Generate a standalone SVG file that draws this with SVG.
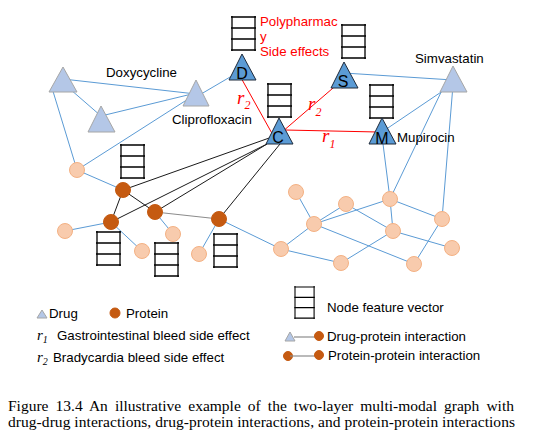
<svg xmlns="http://www.w3.org/2000/svg" xmlns:xlink="http://www.w3.org/1999/xlink" width="538" height="446" viewBox="0 0 538 446">
<defs>
<style>
.bl{stroke:#5B9BD5;stroke-width:1;fill:none}
.bk{stroke:#1a1a1a;stroke-width:1;fill:none}
.gr{stroke:#8c8c8c;stroke-width:1.2;fill:none}
.rd{stroke:#FF0000;stroke-width:1;fill:none}
.dl{fill:#B4C7E7;stroke:#A6A6A6;stroke-width:1}
.dd{fill:#5B9BD5;stroke:#1F2A3A;stroke-width:1}
.pp{fill:#F8CBAD;stroke:#F4B183;stroke-width:1}
.po{fill:#C55A11;stroke:#C55A11;stroke-width:1}
.fv{stroke:#000;stroke-width:1.3;fill:none}
.t{font-family:"Liberation Sans",Arial,sans-serif;font-size:13.3px;fill:#000}
.tr{font-family:"Liberation Sans",Arial,sans-serif;font-size:13.3px;fill:#FF0000}
.lt{font-family:"Liberation Sans",Arial,sans-serif;font-size:16px;fill:#000;text-anchor:middle}
.m{font-family:"Liberation Serif","Times New Roman",serif;font-style:italic;font-size:19px;fill:#FF0000}
.ml{font-family:"Liberation Serif","Times New Roman",serif;font-style:italic;font-size:15px;fill:#000}
.cap{font-family:"Liberation Serif","Times New Roman",serif;font-size:15.5px;fill:#000}
</style>
<g id="fv"><path class="fv" d="M0,-1V34M23,-1V34M-1,0H24M-1,11H24M-1,22H24M-1,33H24"/></g>
</defs>
<rect width="538" height="446" fill="#fff"/>
<g id="connectors">
<path class="bl" d="M63,79L196,94"/>
<path class="bl" d="M63,83L101,116"/>
<path class="bl" d="M101,116L196,93"/>
<path class="bl" d="M52,88L77,170"/>
<path class="bl" d="M196,94L77,170"/>
<path class="bl" d="M196,97L242,70"/>
<path class="bl" d="M344,73L453,80"/>
<path class="bl" d="M453,84L382,132"/>
<path class="bl" d="M444,86L390,199"/>
<path class="bl" d="M453,85L442,219"/>
<path class="bl" d="M382,136L390,199"/>
<path class="bl" d="M77,170L123,190"/>
<path class="bl" d="M111,222L65,231"/>
<path class="bl" d="M111,222L142,251"/>
<path class="bl" d="M155,212L173,234"/>
<path class="bl" d="M219,219L199,254"/>
<path class="bl" d="M219,219L281,249"/>
<path class="bl" d="M281,249L314,224"/>
<path class="bl" d="M314,224L296,192"/>
<path class="bl" d="M314,224L346,204"/>
<path class="bl" d="M314,224L390,199"/>
<path class="bl" d="M314,224L414,264"/>
<path class="bl" d="M346,204L393,231"/>
<path class="bl" d="M390,199L393,231"/>
<path class="bl" d="M390,199L442,219"/>
<path class="bl" d="M393,231L452,248"/>
<path class="bl" d="M393,231L341,263"/>
<path class="bl" d="M281,249L341,263"/>
<path class="bl" d="M442,219L414,264"/>
<path class="bk" d="M272,137L123,190"/>
<path class="bk" d="M267,144L111,222"/>
<path class="bk" d="M267,144L155,212"/>
<path class="bk" d="M280,144L219,219"/>
<path class="bk" d="M123,190L111,222"/>
<path class="bk" d="M123,190L155,212"/>
<path class="gr" d="M155,212L219,219"/>
<path class="rd" d="M240,76L274,137"/>
<path class="rd" d="M282,132L340,82"/>
<path class="rd" d="M285,130L378,132" stroke-width="1.3"/>
</g>
<g id="label-polypharmacy">
<text class="tr" x="260" y="26">Polypharmac</text>
<text class="tr" x="260" y="41">y</text>
<text class="tr" x="260" y="56">Side effects</text>
</g>
<g id="r-labels">
<text class="m" x="237" y="104">r<tspan font-size="12" dy="5">2</tspan></text>
<text class="m" x="308" y="110">r<tspan font-size="12" dy="6">2</tspan></text>
<text class="m" x="322" y="142">r<tspan font-size="12" dy="6">1</tspan></text>
</g>
<g id="drug-doxycycline">
<path class="dl" d="M63,67L77,92H49Z"/>
<text class="t" x="106" y="77">Doxycycline</text>
</g>
<g id="drug-2">
<path class="dl" d="M101,106L115,132H88Z"/>
</g>
<g id="drug-cliprofloxacin">
<path class="dl" d="M196,80L209,106H183Z"/>
<text class="t" x="172" y="124">Cliprofloxacin</text>
</g>
<g id="drug-simvastatin">
<path class="dl" d="M453,66L467,92H440Z"/>
<text class="t" x="415" y="63">Simvastatin</text>
</g>
<g id="drug-D">
<use xlink:href="#fv" x="232" y="17"/>
<path class="dd" d="M242,54L256,80H229Z"/>
<text class="lt" x="242" y="79">D</text>
</g>
<g id="drug-S">
<use xlink:href="#fv" x="342" y="25"/>
<path class="dd" d="M344,62L358,88H331Z"/>
<text class="lt" x="343" y="87">S</text>
</g>
<g id="drug-C">
<use xlink:href="#fv" x="268" y="84"/>
<path class="dd" d="M279,118L293,144H266Z"/>
<text class="lt" x="278" y="143">C</text>
</g>
<g id="drug-M">
<use xlink:href="#fv" x="370" y="85"/>
<path class="dd" d="M382,118L396,144H369Z"/>
<text class="lt" x="382" y="144">M</text>
<text class="t" x="397" y="142">Mupirocin</text>
</g>
<g id="protein-O1"><use xlink:href="#fv" x="121" y="145"/><circle class="po" cx="123" cy="190" r="7.5"/></g>
<g id="protein-O2"><use xlink:href="#fv" x="155" y="243"/><circle class="po" cx="155" cy="212" r="7.5"/></g>
<g id="protein-O3"><use xlink:href="#fv" x="97" y="232"/><circle class="po" cx="111" cy="222" r="7.5"/></g>
<g id="protein-O4"><use xlink:href="#fv" x="214" y="234"/><circle class="po" cx="219" cy="219" r="7.5"/></g>
<g id="protein-P1"><circle class="pp" cx="77" cy="170" r="7.5"/></g>
<g id="protein-P2"><circle class="pp" cx="65" cy="231" r="7.5"/></g>
<g id="protein-P3"><circle class="pp" cx="142" cy="251" r="7.5"/></g>
<g id="protein-P4"><circle class="pp" cx="173" cy="234" r="7.5"/></g>
<g id="protein-P5"><circle class="pp" cx="199" cy="254" r="7.5"/></g>
<g id="protein-A"><circle class="pp" cx="296" cy="192" r="7.5"/></g>
<g id="protein-B"><circle class="pp" cx="346" cy="204" r="7.5"/></g>
<g id="protein-C1"><circle class="pp" cx="390" cy="199" r="7.5"/></g>
<g id="protein-D1"><circle class="pp" cx="442" cy="219" r="7.5"/></g>
<g id="protein-E"><circle class="pp" cx="314" cy="224" r="7.5"/></g>
<g id="protein-F"><circle class="pp" cx="393" cy="231" r="7.5"/></g>
<g id="protein-G"><circle class="pp" cx="452" cy="248" r="7.5"/></g>
<g id="protein-H"><circle class="pp" cx="281" cy="249" r="7.5"/></g>
<g id="protein-I"><circle class="pp" cx="341" cy="263" r="7.5"/></g>
<g id="protein-J"><circle class="pp" cx="414" cy="264" r="7.5"/></g>
<g id="legend">
<path class="dl" d="M42,310L47,318H37Z"/>
<text class="t" x="49" y="318">Drug</text>
<circle class="po" cx="115" cy="313" r="5"/>
<text class="t" x="126" y="318">Protein</text>
<text class="ml" x="37" y="340">r<tspan font-size="10" dy="3">1</tspan></text>
<text class="t" x="57" y="340">Gastrointestinal bleed side effect</text>
<text class="ml" x="37" y="362">r<tspan font-size="10" dy="3">2</tspan></text>
<text class="t" x="53" y="362">Bradycardia bleed side effect</text>
<use xlink:href="#fv" transform="translate(295,287) scale(0.83,0.94)"/>
<text class="t" x="327" y="312">Node feature vector</text>
<path class="dl" d="M290,332L295,341H285Z"/>
<path class="gr" d="M294,337H317"/>
<circle class="po" cx="319" cy="336" r="4.5"/>
<text class="t" x="327" y="341">Drug-protein interaction</text>
<circle class="po" cx="288" cy="356" r="4.5"/>
<path class="gr" d="M290,356H317"/>
<circle class="po" cx="319" cy="355" r="4.5"/>
<text class="t" x="328" y="360">Protein-protein interaction</text>
</g>
<g id="caption">
<text class="cap" x="8" y="411" word-spacing="3.2">Figure 13.4 An illustrative example of the two-layer multi-modal graph with</text>
<text class="cap" x="8" y="427" textLength="507" lengthAdjust="spacing">drug-drug interactions, drug-protein interactions, and protein-protein interactions</text>
</g>
</svg>
